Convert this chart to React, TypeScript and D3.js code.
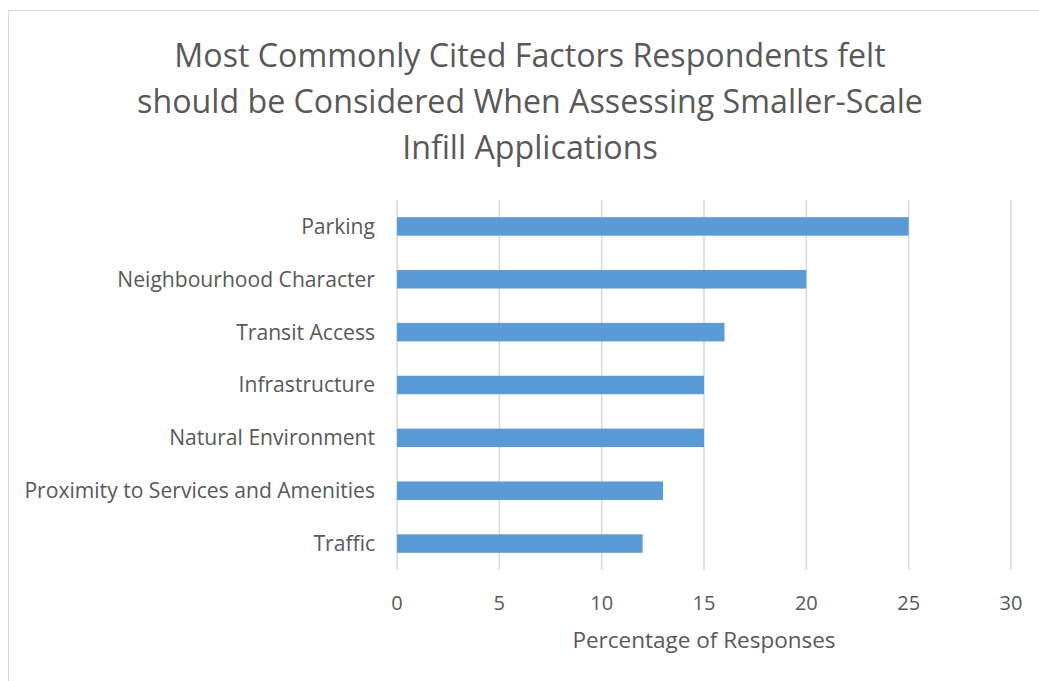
import React from "react";
import * as d3 from "d3";

const categories = [
  "Parking",
  "Neighbourhood Character",
  "Transit Access",
  "Infrastructure",
  "Natural Environment",
  "Proximity to Services and Amenities",
  "Traffic",
];
const values = [25, 20, 16, 15, 15, 13, 12];
const xTicks = [0, 5, 10, 15, 20, 25, 30];
const titleLines = [
  "Most Commonly Cited Factors Respondents felt",
  "should be Considered When Assessing Smaller-Scale",
  "Infill Applications",
];
const xAxisTitle = "Percentage of Responses";

const W = 1039;
const H = 681;
const FONT = "'Open Sans', 'Noto Sans', sans-serif";
const TEXT = "#595959";

export default function App() {
  const x = d3.scaleLinear().domain([0, 30]).range([397, 1011]);
  const y = d3.scaleBand<string>().domain(categories).range([200, 570]).paddingInner(0.65).paddingOuter(0.325);
  return (
    <svg width={W} height={H} style={{ position: "absolute", left: 0, top: 0 }}>
      <rect x={0} y={0} width={W} height={H} fill="#fff" />
      <rect x={8.5} y={10.5} width={1040} height={680} fill="#fff" stroke="#d9d9d9" strokeWidth={1} />
      {titleLines.map((t, i) => (
        <text key={i} x={530} y={56 + i * 46} dy="0.35em" textAnchor="middle" fontFamily={FONT} fontSize={32.2} fill={TEXT}>
          {t}
        </text>
      ))}
      {xTicks.map((t) => (
        <line key={t} x1={x(t)} x2={x(t)} y1={200} y2={570} stroke="#d9d9d9" strokeWidth={1.5} />
      ))}
      {categories.map((c, i) => (
        <rect key={c} x={x(0)} y={y(c)!} width={x(values[i]) - x(0)} height={y.bandwidth()} fill="#5B9BD5" />
      ))}
      {categories.map((c) => (
        <text key={c} x={375} y={y(c)! + y.bandwidth() / 2} dy="0.35em" textAnchor="end" fontFamily={FONT} fontSize={21.1} fill={TEXT}>
          {c}
        </text>
      ))}
      {xTicks.map((t) => (
        <text key={t} x={x(t)} y={603} dy="0.35em" textAnchor="middle" fontFamily={FONT} fontSize={20} fill={TEXT}>
          {t}
        </text>
      ))}
      <text x={704} y={640} dy="0.35em" textAnchor="middle" fontFamily={FONT} fontSize={22.5} fill={TEXT}>
        {xAxisTitle}
      </text>
    </svg>
  );
}
